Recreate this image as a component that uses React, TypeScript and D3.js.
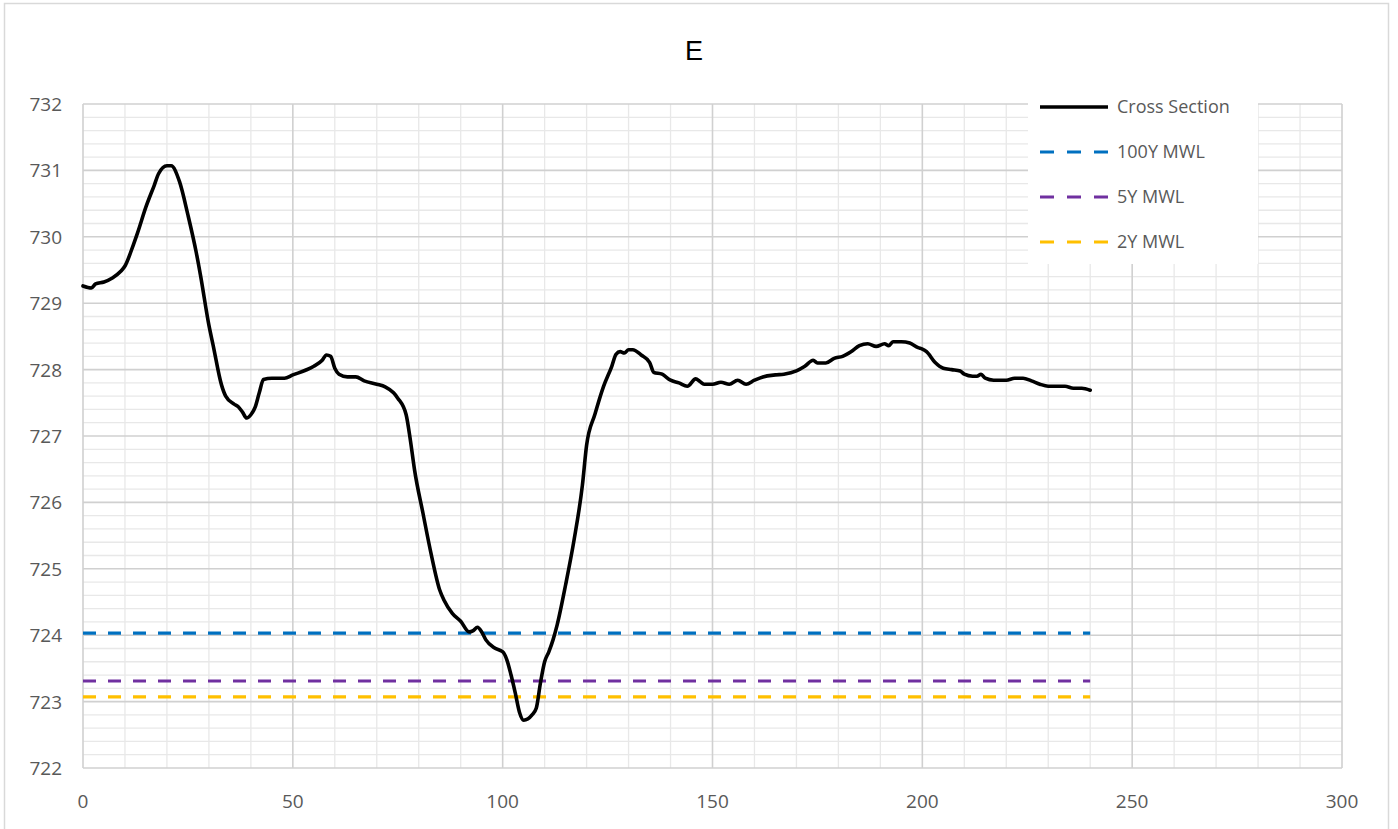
import React from "react";
import * as d3 from "d3";

const stations = [0,2,3,5,7,9,10,12,13,15,17,18,20,21,23,25,27,28,30,31,33,34,36,37,38,39,40,41,42,43,45,48,50,53,55,57,58,59,60,61,63,65,67,70,72,74,75,77,78,79,81,83,85,86,88,90,92,93,94,95,96,98,100,101,102,103,104,105,107,108,109,110,111,112,113,115,117,119,120,122,124,126,127,128,129,130,131,133,135,136,138,140,142,144,146,147,148,150,152,154,156,158,160,162,165,167,170,172,174,175,177,179,181,183,185,187,189,191,192,193,195,197,199,200,201,203,205,207,209,210,212,213,214,215,217,220,222,224,226,228,230,232,234,236,238,240];
const elevations = [729.26,729.23,729.29,729.32,729.38,729.48,729.56,729.88,730.06,730.45,730.78,730.95,731.07,731.07,730.83,730.33,729.76,729.42,728.67,728.37,727.77,727.6,727.48,727.44,727.36,727.27,727.32,727.43,727.65,727.85,727.87,727.87,727.92,727.99,728.05,728.14,728.22,728.2,728.02,727.93,727.89,727.89,727.83,727.78,727.74,727.65,727.57,727.32,726.94,726.49,725.84,725.21,724.68,724.53,724.33,724.21,724.05,724.07,724.12,724.05,723.93,723.81,723.75,723.63,723.4,723.13,722.84,722.72,722.8,722.9,723.28,723.6,723.75,723.93,724.16,724.76,725.43,726.26,726.86,727.33,727.74,728.05,728.23,728.27,728.25,728.3,728.3,728.22,728.11,727.96,727.93,727.84,727.8,727.75,727.86,727.82,727.78,727.78,727.81,727.78,727.84,727.78,727.84,727.89,727.92,727.93,727.98,728.05,728.14,728.1,728.1,728.17,728.2,728.27,728.36,728.39,728.35,728.39,728.36,728.42,728.42,728.4,728.33,728.31,728.27,728.11,728.02,728.0,727.98,727.93,727.9,727.9,727.93,727.87,727.84,727.84,727.87,727.87,727.83,727.78,727.75,727.75,727.75,727.72,727.72,727.69];

const waterNames = ["100Y MWL", "5Y MWL", "2Y MWL"];
const waterLevels = [724.03, 723.31, 723.07];
const waterColors = ["#0070C0", "#7030A0", "#FFC000"];
const waterExtent = [0, 240];

const xTicks = [0, 50, 100, 150, 200, 250, 300];
const yTicks = [722, 723, 724, 725, 726, 727, 728, 729, 730, 731, 732];

export default function App() {
  const W = 1398, H = 829;
  const left = 83, right = 1342, top = 104, bottom = 768;
  const x = d3.scaleLinear().domain([0, 300]).range([left, right]);
  const y = d3.scaleLinear().domain([722, 732]).range([bottom, top]);

  const minorX = d3.range(0, 301, 10).filter((v) => v % 50 !== 0);
  const minorY = d3.range(0, 51).map((i) => 722 + i * 0.2).filter((_, i) => i % 5 !== 0);

  const line = d3
    .line<number>()
    .x((_, i) => x(stations[i]))
    .y((d) => y(d))
    .curve(d3.curveMonotoneX);

  const font = "'Open Sans', sans-serif";
  const legendY = [107, 152, 197, 242];
  const dash = "13 12";

  return (
    <svg
      width={W}
      height={H}
      style={{ position: "absolute", left: 0, top: 0, background: "#fff" }}
    >
      <rect x={4.5} y={3.5} width={1384} height={840} fill="#fff" stroke="#d9d9d9" strokeWidth={1.5} />
      <text x={694} y={60} textAnchor="middle" fontFamily="'Liberation Sans', Arial, sans-serif" fontSize={27} fill="#000">
        E
      </text>

      {/* minor grid */}
      {minorX.map((v) => (
        <line key={"mx" + v} x1={x(v)} x2={x(v)} y1={top} y2={bottom} stroke="#e8e8e8" strokeWidth={1.3} />
      ))}
      {minorY.map((v, i) => (
        <line key={"my" + i} x1={left} x2={right} y1={y(v)} y2={y(v)} stroke="#e8e8e8" strokeWidth={1.3} />
      ))}
      {/* major grid */}
      {xTicks.map((v) => (
        <line key={"Mx" + v} x1={x(v)} x2={x(v)} y1={top} y2={bottom} stroke="#d0d0d0" strokeWidth={1.6} />
      ))}
      {yTicks.map((v) => (
        <line key={"My" + v} x1={left} x2={right} y1={y(v)} y2={y(v)} stroke="#d0d0d0" strokeWidth={1.6} />
      ))}

      {/* tick labels */}
      {yTicks.map((v) => (
        <text key={"yl" + v} x={62} y={y(v) + 7} textAnchor="end" fontFamily={font} fontSize={19} fill="#595959">
          {v}
        </text>
      ))}
      {xTicks.map((v) => (
        <text key={"xl" + v} x={x(v)} y={808} textAnchor="middle" fontFamily={font} fontSize={19} fill="#595959">
          {v}
        </text>
      ))}

      {/* water levels */}
      {waterLevels.map((v, i) => (
        <line
          key={"w" + i}
          x1={x(waterExtent[0])}
          x2={x(waterExtent[1])}
          y1={y(v)}
          y2={y(v)}
          stroke={waterColors[i]}
          strokeWidth={3.2}
          strokeDasharray={dash}
        />
      ))}

      {/* cross section */}
      <path d={line(elevations) || ""} fill="none" stroke="#000" strokeWidth={3.6} strokeLinejoin="round" strokeLinecap="round" />

      {/* legend */}
      <rect x={1028} y={84} width={230} height={180} fill="#fff" />
      <line x1={1040} x2={1108} y1={legendY[0]} y2={legendY[0]} stroke="#000" strokeWidth={3.6} />
      <text x={1117} y={legendY[0] + 6} fontFamily={font} fontSize={18} fill="#595959">Cross Section</text>
      {waterNames.map((n, i) => (
        <g key={"lg" + i}>
          <line
            x1={1040}
            x2={1108}
            y1={legendY[i + 1]}
            y2={legendY[i + 1]}
            stroke={waterColors[i]}
            strokeWidth={3.2}
            strokeDasharray="14 13"
          />
          <text x={1117} y={legendY[i + 1] + 6} fontFamily={font} fontSize={18} fill="#595959">
            {n}
          </text>
        </g>
      ))}
    </svg>
  );
}
